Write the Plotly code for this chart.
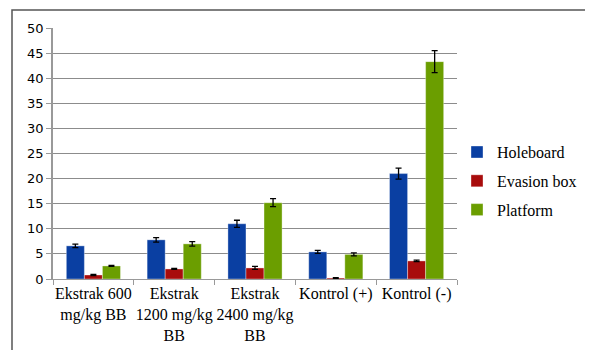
import plotly.graph_objects as go

categories = ["Ekstrak 600<br>mg/kg BB", "Ekstrak<br>1200 mg/kg<br>BB", "Ekstrak<br>2400 mg/kg<br>BB", "Kontrol (+)", "Kontrol (-)"]
holeboard = [6.6, 7.8, 11.0, 5.4, 21.0]
holeboard_err = [0.35, 0.45, 0.7, 0.3, 1.1]
evasion = [0.8, 2.0, 2.2, 0.2, 3.6]
evasion_err = [0.1, 0.1, 0.3, 0.05, 0.15]
platform = [2.6, 7.0, 15.2, 4.9, 43.3]
platform_err = [0.1, 0.45, 0.8, 0.3, 2.2]
y_ticks = [0, 5, 10, 15, 20, 25, 30, 35, 40, 45, 50]

series = [
    ("Holeboard", holeboard, holeboard_err, "#0A3FA2"),
    ("Evasion box", evasion, evasion_err, "#A80C0C"),
    ("Platform", platform, platform_err, "#6B9E00"),
]

SERIF = "Liberation Serif, Times New Roman, serif"

fig = go.Figure()
for name, vals, errs, col in series:
    fig.add_trace(go.Bar(
        x=categories, y=vals, name=name, legendgroup=name,
        marker=dict(color=col, line=dict(color="rgba(255,255,255,0.35)", width=1)),
        error_y=dict(type="data", array=errs, visible=True, color="#000000", thickness=1.3, width=3),
    ))

fig.update_layout(
    width=585, height=342,
    margin=dict(l=45, r=136, t=20, b=71, autoexpand=False),
    paper_bgcolor="white", plot_bgcolor="white",
    barmode="group", bargap=0.33, bargroupgap=0,
    showlegend=True,
    legend=dict(x=1.0, y=0.39, xanchor="left", yanchor="middle",
                font=dict(family=SERIF, size=16, color="#000"),
                itemwidth=30, traceorder="grouped", tracegroupgap=5,
                bgcolor="rgba(0,0,0,0)"),
    shapes=[dict(type="rect", xref="paper", yref="paper",
                 x0=-41/404, x1=537/404, y0=-80/251, y1=18/251 + 1,
                 line=dict(color="#555555", width=1.5), layer="below")],
)
fig.update_xaxes(
    type="category", showgrid=False, showline=True, linecolor="#999999", linewidth=1,
    ticks="outside", tickson="boundaries", ticklen=5, tickcolor="#999999",
    tickangle=0, automargin=False,
    tickfont=dict(family=SERIF, size=16, color="#000"),
)
fig.update_yaxes(
    range=[0, 50], tickvals=y_ticks, showgrid=True, gridcolor="#8c8c8c", gridwidth=1,
    showline=True, linecolor="#999999", linewidth=1.5, ticks="outside", ticklen=5, tickcolor="#999999",
    zeroline=False, automargin=False,
    tickfont=dict(family="DejaVu Sans", size=13, color="#000"),
)

fig.write_html("out.html")
